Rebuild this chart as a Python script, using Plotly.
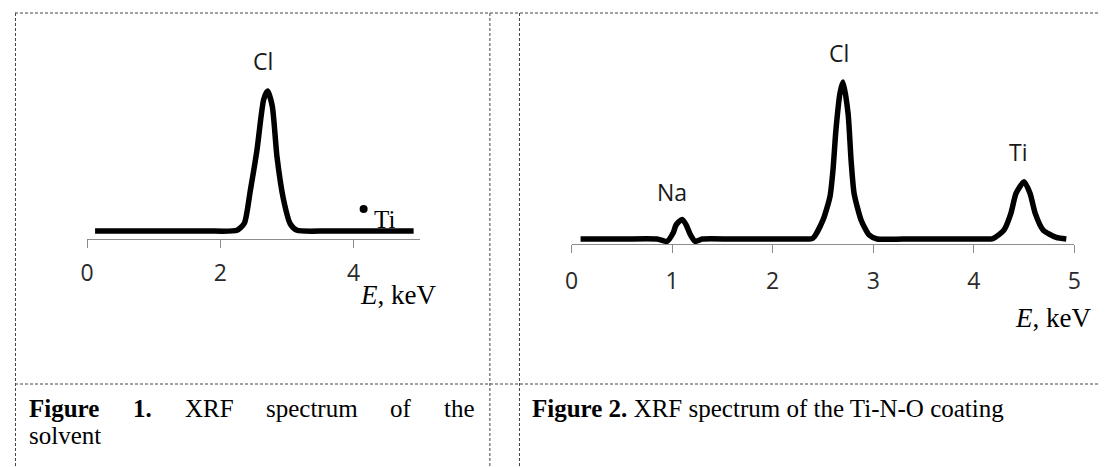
import plotly.graph_objects as go

# ---- data (energy in keV, intensity in arbitrary units) ----
# Figure 1: solvent
e_solvent = [0.12, 1.0, 1.8, 2.25, 2.36, 2.45, 2.55, 2.65, 2.71, 2.78, 2.85, 2.95, 3.05, 3.15, 3.6, 4.3, 4.9]
i_solvent = [0, 0, 0, 0.5, 5.5, 29, 58, 94, 100, 89, 53, 22, 5, 0.5, 0, 0, 0]
ti_dot_e = [4.15]
ti_dot_i = [15.7]

# Figure 2: Ti-N-O coating
e_coating = [0.09, 0.5, 0.85, 0.95, 1.01, 1.04, 1.10, 1.14, 1.18, 1.23, 1.30, 1.6, 2.0, 2.3, 2.40,
             2.50, 2.57, 2.60, 2.63, 2.67, 2.70, 2.75, 2.78, 2.81, 2.88, 2.96, 3.04, 3.3, 3.7,
             4.05, 4.19, 4.30, 4.37, 4.42, 4.50, 4.56, 4.61, 4.69, 4.82, 4.92]
i_coating = [0, 0, 0, -1.5, 3.8, 9, 12.5, 9, 3, -1.5, 0, 0, 0, 0, 0.5,
             12, 27, 44, 70, 93, 100, 80, 50, 29, 12, 2.5, 0, 0, 0,
             0, 0.3, 5.7, 16.5, 29, 36.5, 29, 16.5, 5.7, 1, 0]

ticks_solvent = [0, 2, 4]
ticks_coating = [0, 1, 2, 3, 4, 5]

# the page body has an 8px margin, so the figure is 8px smaller than the window
OFF = 8
W, H = 1108 - OFF, 467 - OFF


def px(x):
    return (x - OFF) / W


def py(y):
    return 1 - (y - OFF) / H


line_style = dict(color='black', width=5.5, shape='spline', smoothing=0.6)

fig = go.Figure()
fig.add_trace(go.Scatter(x=e_solvent, y=i_solvent, mode='lines', line=line_style,
                         xaxis='x', yaxis='y', showlegend=False, hoverinfo='skip'))
fig.add_trace(go.Scatter(x=ti_dot_e, y=ti_dot_i, mode='markers',
                         marker=dict(color='black', size=8),
                         xaxis='x', yaxis='y', showlegend=False, hoverinfo='skip'))
fig.add_trace(go.Scatter(x=e_coating, y=i_coating, mode='lines', line=line_style,
                         xaxis='x2', yaxis='y2', showlegend=False, hoverinfo='skip'))

xax = dict(range=[0, 5], showgrid=False, zeroline=False, showline=True,
           linecolor='#8c8c8c', linewidth=1, ticks='outside', ticklen=8,
           tickcolor='#8c8c8c', tickwidth=1,
           tickfont=dict(family='Open Sans', size=23, color='#2a2a2a'))
yax = dict(visible=False, showgrid=False, zeroline=False)

fig.update_layout(
    width=W, height=H, autosize=False,
    margin=dict(l=0, r=0, t=0, b=0),
    paper_bgcolor='white', plot_bgcolor='white',
    xaxis=dict(xax, domain=[px(81), px(418.5)], tickvals=ticks_solvent,
               ticklabelstandoff=5, anchor='y'),
    yaxis=dict(yax, domain=[py(239), py(30)], range=[-5.71, 143.6], anchor='x'),
    xaxis2=dict(xax, domain=[px(571.7), px(1081)], tickvals=ticks_coating,
                ticklabelstandoff=8, anchor='y2'),
    yaxis2=dict(yax, domain=[py(244), py(30)], range=[-3.18, 133.1], anchor='x2'),
)

sans = dict(family='Open Sans', size=23, color='#1a1a1a')
serif = dict(family='Liberation Serif', size=27, color='black')

annos = [
    dict(text='Cl', x=2.64, y=121.4, xref='x', yref='y', font=sans),
    dict(text='Ti', x=px(382), y=py(219), xref='paper', yref='paper',
         font=dict(family='Liberation Serif', size=25, color='black')),
    dict(text='<i>E</i>, keV', x=px(396), y=py(295), xref='paper', yref='paper', font=serif),
    dict(text='Na', x=1.00, y=29.9, xref='x2', yref='y2', font=sans),
    dict(text='Cl', x=2.66, y=118.5, xref='x2', yref='y2', font=sans),
    dict(text='Ti', x=4.44, y=55.4, xref='x2', yref='y2', font=sans),
    dict(text='<i>E</i>, keV', x=px(1059), y=py(318), xref='paper', yref='paper', font=serif),
]

# captions (first line of figure 1 is justified, so each word is placed on its own)
cap = dict(family='Liberation Serif', size=25, color='black')
words1 = [('<b>Figure</b>', 20), ('<b>1.</b>', 125), ('XRF', 178), ('spectrum', 260),
          ('of', 386), ('the', 441)]
for w, x0 in words1:
    annos.append(dict(text=w, x=px(x0), y=py(408), xref='paper', yref='paper',
                      xanchor='left', font=cap))
annos.append(dict(text='solvent', x=px(20), y=py(435), xref='paper', yref='paper',
                  xanchor='left', font=cap))
annos.append(dict(text='<b>Figure 2.</b> XRF spectrum of the Ti-N-O coating', x=px(530),
                  y=py(408), xref='paper', yref='paper', xanchor='left', font=cap))

for a in annos:
    a.setdefault('showarrow', False)
    a.setdefault('xanchor', 'center')
    a.setdefault('yanchor', 'middle')
fig.update_layout(annotations=annos)

# dashed table borders
border = dict(color='#444444', width=1, dash='3px,2px')
lines = [
    (8, 13, 1107, 13),
    (8, 384, 1107, 384),
    (8.5, 13, 8.5, 467),
    (489, 13, 489, 467),
    (519, 13, 519, 467),
]
for x0, y0, x1, y1 in lines:
    fig.add_shape(type='line', xref='paper', yref='paper',
                  x0=px(x0), y0=py(y0), x1=px(x1), y1=py(y1), line=border)

fig.write_html('out.html')
